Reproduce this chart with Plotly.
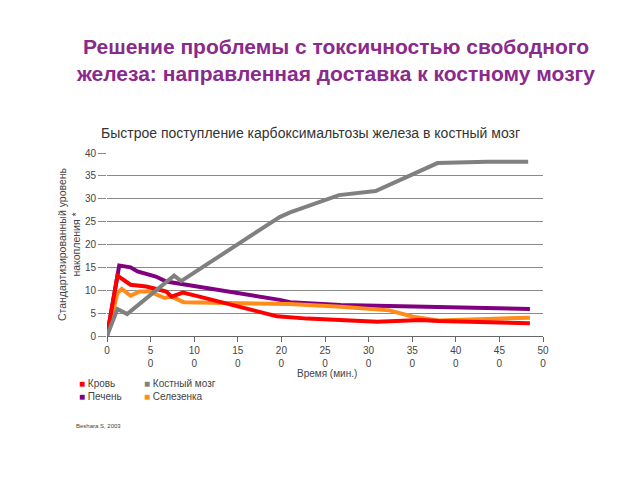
import plotly.graph_objects as go

# Время (мин.) и уровни накопления для каждой ткани
blood_t = [0, 12, 27, 45, 60, 68, 74, 87, 106, 163, 195, 230, 268, 310, 360, 380, 485]
blood_v = [0, 13.2, 11.2, 10.8, 10.1, 9.7, 8.6, 9.5, 8.6, 5.7, 4.3, 3.8, 3.5, 3.1, 3.5, 3.3, 2.8]

marrow_t = [0, 12, 23, 77, 85, 198, 210, 266, 308, 379, 436, 483]
marrow_v = [0, 5.9, 4.8, 13.2, 12.0, 26.0, 27.0, 30.8, 31.7, 37.8, 38.1, 38.1]

liver_t = [0, 14, 27, 35, 56, 68, 198, 210, 268, 310, 380, 485]
liver_v = [0, 15.4, 15.0, 14.1, 13.0, 11.9, 7.9, 7.4, 6.8, 6.6, 6.2, 5.9]

spleen_t = [0, 12, 17, 27, 37, 49, 66, 74, 88, 106, 210, 268, 324, 351, 380, 485]
spleen_v = [0, 9.4, 10.3, 8.8, 9.7, 9.7, 8.3, 8.6, 7.4, 7.3, 7.0, 6.4, 5.6, 4.2, 3.4, 4.0]

tick_vals = [0, 50, 100, 150, 200, 250, 300, 350, 400, 450, 500]
tick_text = ["0", "5<br>0", "10<br>0", "15<br>0", "20<br>0", "25<br>0",
             "30<br>0", "35<br>0", "40<br>0", "45<br>0", "50<br>0"]

RED = "#FF0000"
GRAY = "#808080"
PURPLE = "#800080"
ORANGE = "#FF8C1A"
FONT = "Liberation Sans, Arial, sans-serif"

fig = go.Figure()

# lines (gray drawn last so it sits on top)
for t, v, c in [(liver_t, liver_v, PURPLE), (spleen_t, spleen_v, ORANGE),
                (blood_t, blood_v, RED), (marrow_t, marrow_v, GRAY)]:
    fig.add_trace(go.Scatter(x=t, y=v, mode="lines", line=dict(color=c, width=4),
                             showlegend=False, hoverinfo="skip"))

# legend as small coloured squares + text (two columns, two rows)
legend_items = [("Кровь", RED, -0.069, -0.26), ("Костный мозг", GRAY, 0.080, -0.26),
                ("Печень", PURPLE, -0.069, -0.333), ("Селезенка", ORANGE, 0.080, -0.333)]
annotations = []
for name, c, lx, ly in legend_items:
    annotations.append(dict(
        text=f"<span style='color:{c}'>■</span> {name}", xref="paper", yref="paper",
        x=lx, y=ly, xanchor="left", yanchor="middle", showarrow=False,
        font=dict(size=10, color="#444", family=FONT)))

annotations += [
    dict(text="<b>Решение проблемы с токсичностью свободного<br>железа: направленная доставка к костному мозгу</b>",
         xref="paper", yref="paper", x=0.523, y=1.51, xanchor="center", yanchor="middle",
         showarrow=False, font=dict(size=21, color="#8A2A8C", family=FONT)),
    dict(text="Быстрое поступление карбоксимальтозы железа в костный мозг",
         xref="paper", yref="paper", x=0.466, y=1.109, xanchor="center", yanchor="middle",
         showarrow=False, font=dict(size=14, color="#333", family=FONT)),
    dict(text="Время (мин.)", xref="paper", yref="paper", x=0.505, y=-0.205,
         xanchor="center", yanchor="middle", showarrow=False,
         font=dict(size=10, color="#444", family=FONT)),
    dict(text="Beshara S, 2003", xref="paper", yref="paper", x=-0.075, y=-0.49,
         xanchor="left", yanchor="middle", showarrow=False,
         font=dict(size=6, color="#444", family=FONT)),
]

# the page body adds 8px, so margins are shifted to compensate
fig.update_layout(
    width=640, height=480,
    margin=dict(l=99, r=105, t=145, b=152),
    paper_bgcolor="white", plot_bgcolor="white",
    font=dict(family=FONT, color="#444"),
    showlegend=False,
    xaxis=dict(range=[0, 500], tickvals=tick_vals, ticktext=tick_text,
               showgrid=False, zeroline=False, showline=True, linecolor="#666",
               ticks="outside", ticklen=5, tickcolor="#666",
               tickfont=dict(size=10, color="#444")),
    yaxis=dict(range=[0, 40], dtick=5, showgrid=True, gridcolor="#8a8a8a", gridwidth=1,
               zeroline=False, showline=False, ticks="outside", ticklen=8, tickcolor="#8a8a8a",
               tickfont=dict(size=10, color="#444"),
               title=dict(text="Стандартизированный уровень<br>накопления *",
                          font=dict(size=10.5, color="#444"), standoff=2)),
    annotations=annotations,
)

fig.write_html("out.html")
